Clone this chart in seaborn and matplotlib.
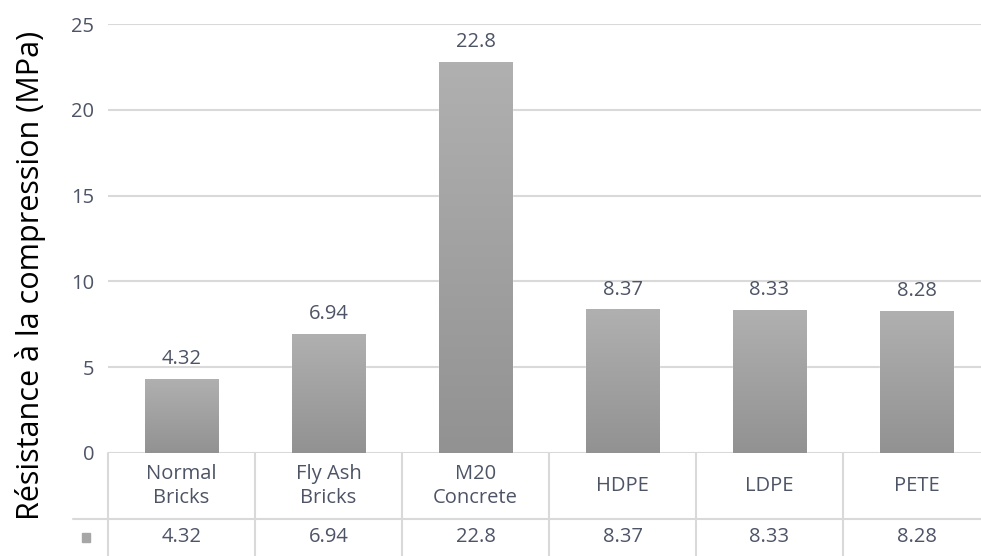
import numpy as np
import pandas as pd
import seaborn as sns
import matplotlib.pyplot as plt
from matplotlib.lines import Line2D
from matplotlib.patches import Rectangle
from matplotlib.colors import LinearSegmentedColormap

# Data
categories = ['Normal\nBricks', 'Fly Ash\nBricks', 'M20\nConcrete', 'HDPE', 'LDPE', 'PETE']
strength = [4.32, 6.94, 22.8, 8.37, 8.33, 8.28]
value_labels = ['4.32', '6.94', '22.8', '8.37', '8.33', '8.28']
y_ticks = [0, 5, 10, 15, 20, 25]

df = pd.DataFrame({'cat': categories, 'val': strength})

sns.set_style('white')
plt.rcParams['font.family'] = ['Open Sans', 'DejaVu Sans']

text_col = '#4d5466'
grid_col = '#d9d9d9'
fs = 14.5

fig = plt.figure(figsize=(9.81, 5.56), dpi=100)
ax = fig.add_axes([108 / 981, 103 / 556, 882 / 981, 429 / 556])

sns.barplot(data=df, x='cat', y='val', color='#a6a6a6', width=0.5,
            saturation=1, ax=ax, zorder=3)

# vertical gradient on the bars, like the Excel fill
grad = np.linspace(0, 1, 100).reshape(-1, 1)
cmap = LinearSegmentedColormap.from_list('g', ['#929292', '#b0b0b0'])
for p in ax.patches:
    x0, y0 = p.get_x(), p.get_y()
    w, h = p.get_width(), p.get_height()
    im = ax.imshow(grad, extent=[x0, x0 + w, y0, y0 + h], origin='lower',
                   cmap=cmap, aspect='auto', zorder=4)
    im.set_clip_path(p)

for i, (v, lab) in enumerate(zip(strength, value_labels)):
    ax.annotate(lab, (i, v), xytext=(0, 7), textcoords='offset points',
                ha='center', va='bottom', fontsize=fs, color=text_col, zorder=5)

ax.set_xlim(-0.5, 5.5)
ax.set_ylim(0, 25)
ax.set_yticks(y_ticks)
ax.set_yticklabels([str(t) for t in y_ticks], fontsize=fs, color=text_col)
ax.tick_params(axis='y', length=0, pad=10)
ax.set_xticks([])
ax.set_xlabel('')
ax.set_ylabel('')
for s in ax.spines.values():
    s.set_visible(False)
ax.yaxis.grid(True, color=grid_col, linewidth=1.5, zorder=0)
ax.set_axisbelow(True)

# Y label
fig.text(31 / 981, 0.505, 'Résistance à la compression (MPa)', rotation=90,
         ha='center', va='center', fontsize=22, color='black')

# Data table below the axis
trans = ax.get_xaxis_transform()
row1_top = 0.0
row1_bot = -66 / 429
row2_bot = -103 / 429
tl = dict(color=grid_col, linewidth=1.5, transform=trans, clip_on=False)
ax.add_line(Line2D([-0.74, 5.5], [row1_bot, row1_bot], **tl))
for b in np.arange(-0.5, 6, 1):
    ax.add_line(Line2D([b, b], [row1_top, row2_bot], **tl))
for i, (c, lab) in enumerate(zip(categories, value_labels)):
    ax.text(i, (row1_top + row1_bot) / 2, c, transform=trans, ha='center',
            va='center', fontsize=fs, color=text_col, linespacing=1.25)
    ax.text(i, (row1_bot + row2_bot) / 2, lab, transform=trans, ha='center',
            va='center', fontsize=fs, color=text_col)
ax.add_patch(Rectangle((-0.68, (row1_bot + row2_bot) / 2 - 0.01), 0.055, 0.02,
                       transform=trans, color='#a6a6a6', clip_on=False))

fig.savefig('out.png', dpi=100, facecolor='white')
